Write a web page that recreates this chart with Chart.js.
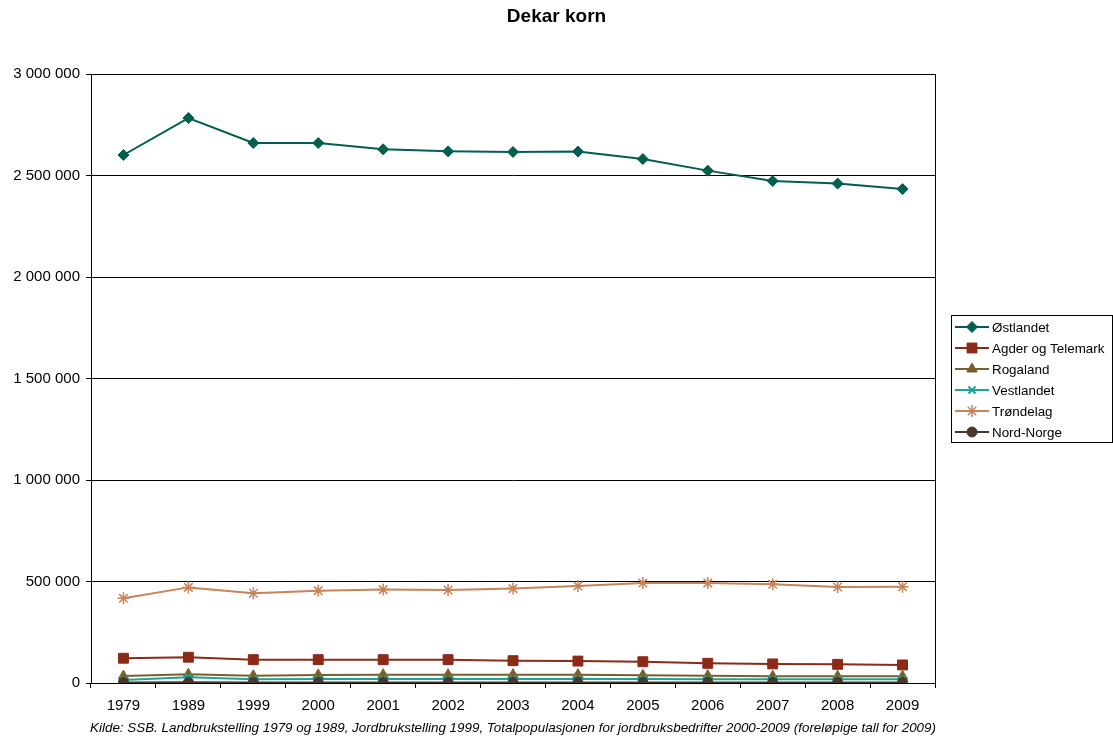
<!DOCTYPE html>
<html>
<head>
<meta charset="utf-8">
<title>Dekar korn</title>
<script src="https://cdn.jsdelivr.net/npm/chart.js@4.4.1/dist/chart.umd.min.js"></script>
<style>
  html, body { margin: 0; padding: 0; background: #fff; }
  #wrap { width: 1113px; height: 740px; }
</style>
</head>
<body>
<div id="wrap"><canvas id="kornChart" width="1113" height="740"></canvas></div>
<script>
// ---- data ----
const years = ['1979', '1989', '1999', '2000', '2001', '2002', '2003', '2004', '2005', '2006', '2007', '2008', '2009'];

const ostlandet  = [2601000, 2783000, 2660000, 2660000, 2629000, 2619000, 2616000, 2618000, 2581000, 2524000, 2473000, 2460000, 2433000];
const agderTelemark = [122000, 127000, 115000, 115000, 115000, 115000, 110000, 108000, 105000, 97000, 94000, 92000, 89000];
const rogaland   = [34000, 43000, 36000, 40000, 41000, 41000, 41000, 41000, 38000, 36000, 33000, 33000, 33000];
const vestlandet = [15000, 28000, 18000, 20000, 20000, 20000, 20000, 20000, 20000, 19000, 18000, 18000, 18000];
const trondelag  = [417000, 471000, 442000, 455000, 460000, 458000, 465000, 478000, 493000, 492000, 486000, 473000, 474000];
const nordNorge  = [3000, 4000, 3000, 3000, 3000, 3000, 3000, 3000, 3000, 3000, 3000, 3000, 3000];

const yTicks = [0, 500000, 1000000, 1500000, 2000000, 2500000, 3000000];

const chartTitle = 'Dekar korn';
const sourceNote = 'Kilde: SSB. Landbrukstelling 1979 og 1989, Jordbrukstelling 1999, Totalpopulasjonen for jordbruksbedrifter 2000-2009 (foreløpige tall for 2009)';

const FONT = '"Liberation Sans", Arial, sans-serif';

function spaced(v) {
    return String(v).replace(/\B(?=(\d{3})+(?!\d))/g, ' ');
}

function series(label, data, color, style, radius, order) {
    return {
        label: label,
        data: data,
        borderColor: color,
        backgroundColor: color,
        pointBackgroundColor: color,
        pointBorderColor: color,
        borderWidth: 2,
        pointBorderWidth: 1,
        pointStyle: style,
        pointRadius: radius,
        tension: 0,
        fill: false,
        order: order
    };
}

const datasets = [
    series('Østlandet', ostlandet, '#005F4E', 'rectRot', 5.5, 6),
    series('Agder og Telemark', agderTelemark, '#8C2A17', 'rect', 7, 5),
    series('Rogaland', rogaland, '#7B5E2A', 'triangle', 6, 4),
    series('Vestlandet', vestlandet, '#1BA597', 'crossRot', 5, 3),
    series('Trøndelag', trondelag, '#C98358', 'star', 6, 2),
    series('Nord-Norge', nordNorge, '#4A372D', 'circle', 5, 1)
];
datasets[3].pointBorderWidth = 2;
datasets[4].pointBorderWidth = 1.5;

// --- title, frame, legend and source line ---
const decorPlugin = {
    id: 'decor',
    afterDraw(chart) {
        const ctx = chart.ctx;
        const a = chart.chartArea;
        ctx.save();

        // right border of plot area
        ctx.strokeStyle = '#000';
        ctx.lineWidth = 1;
        ctx.beginPath();
        ctx.moveTo(Math.round(a.right) + 0.5, a.top);
        ctx.lineTo(Math.round(a.right) + 0.5, a.bottom);
        ctx.stroke();

        // title
        ctx.fillStyle = '#000';
        ctx.font = 'bold 19px ' + FONT;
        ctx.textAlign = 'center';
        ctx.textBaseline = 'middle';
        ctx.fillText(chartTitle, chart.width / 2, 17);

        // source note
        ctx.font = 'italic 13.4px ' + FONT;
        ctx.fillText(sourceNote, (a.left + a.right) / 2, 728);

        // legend
        const lx = 951, ly = 315, lw = 161, lh = 127, rowH = 21;
        ctx.strokeStyle = '#000';
        ctx.lineWidth = 1;
        ctx.strokeRect(lx + 0.5, ly + 0.5, lw, lh);
        ctx.font = '13.4px ' + FONT;
        ctx.textAlign = 'left';
        chart.data.datasets.forEach((ds, i) => {
            const y = ly + 12 + i * rowH;
            ctx.strokeStyle = ds.borderColor;
            ctx.fillStyle = ds.borderColor;
            ctx.lineWidth = 2;
            ctx.beginPath();
            ctx.moveTo(lx + 4, y);
            ctx.lineTo(lx + 38, y);
            ctx.stroke();
            ctx.lineWidth = ds.pointBorderWidth;
            Chart.helpers.drawPoint(ctx, {
                pointStyle: ds.pointStyle,
                radius: ds.pointRadius,
                rotation: 0,
                borderWidth: ds.pointBorderWidth
            }, lx + 21, y);
            ctx.fillStyle = '#000';
            ctx.fillText(ds.label, lx + 41, y + 1);
        });

        ctx.restore();
    }
};

const ctx = document.getElementById('kornChart').getContext('2d');
new Chart(ctx, {
    type: 'line',
    data: { labels: years, datasets: datasets },
    options: {
        responsive: false,
        animation: false,
        devicePixelRatio: 1,
        layout: { padding: { top: 74, right: 178, bottom: 27, left: 0 } },
        scales: {
            x: {
                offset: true,
                grid: {
                    offset: true,
                    drawOnChartArea: false,
                    color: '#000',
                    tickLength: 5
                },
                border: { color: '#000', width: 1 },
                ticks: {
                    color: '#000',
                    font: { family: FONT, size: 15 },
                    padding: 9,
                    maxRotation: 0,
                    autoSkip: false
                },
                afterFit(scale) { scale.height = 30; }
            },
            y: {
                min: 0,
                max: 3000000,
                afterBuildTicks(scale) {
                    scale.ticks = yTicks.map(v => ({ value: v }));
                },
                grid: { color: '#000', lineWidth: 1, tickLength: 5 },
                border: { color: '#000', width: 1 },
                ticks: {
                    color: '#000',
                    font: { family: FONT, size: 15 },
                    padding: 6,
                    callback: v => spaced(v)
                },
                afterFit(scale) { scale.width = 91; }
            }
        },
        plugins: {
            legend: { display: false },
            title: { display: false },
            tooltip: { enabled: false }
        }
    },
    plugins: [decorPlugin]
});
</script>
</body>
</html>
